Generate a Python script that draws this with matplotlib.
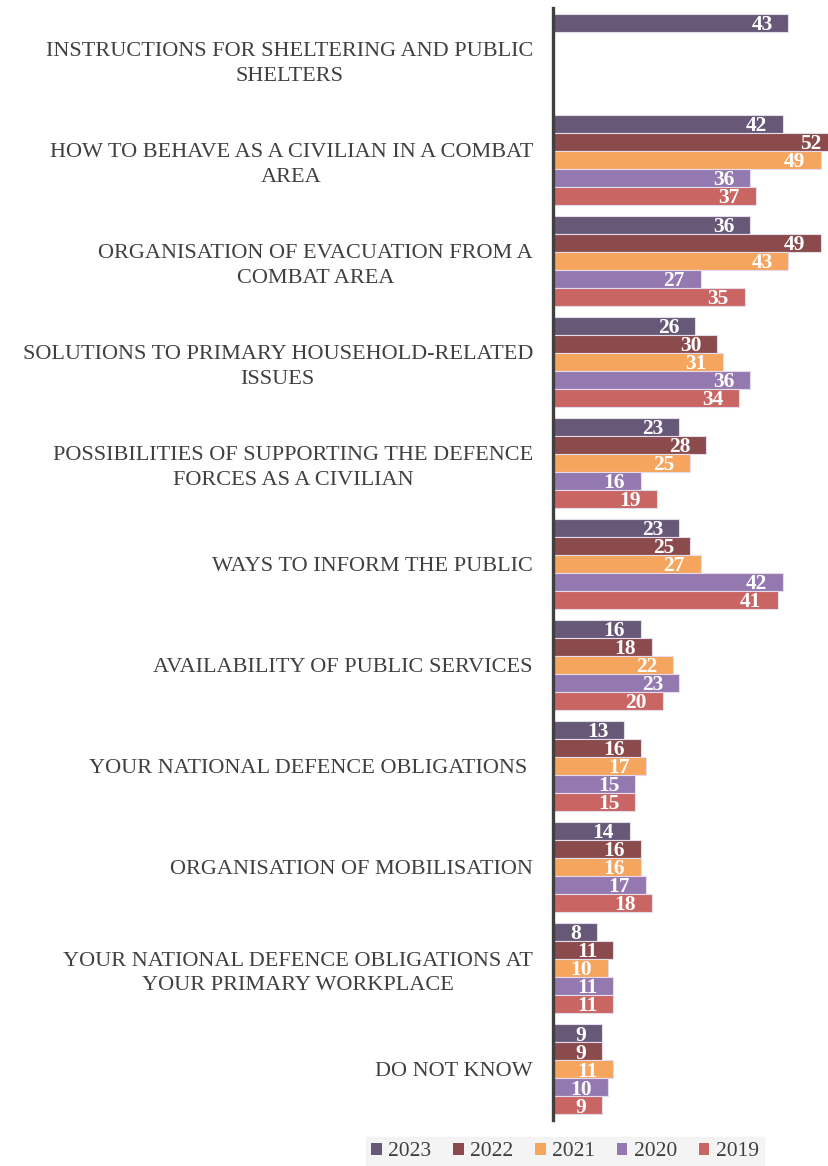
import numpy as np
import matplotlib
matplotlib.use("Agg")
import matplotlib.pyplot as plt
from matplotlib.patches import Patch

categories = [
    "INSTRUCTIONS FOR SHELTERING AND PUBLIC\nSHELTERS",
    "HOW TO BEHAVE AS A CIVILIAN IN A COMBAT\nAREA",
    "ORGANISATION OF EVACUATION FROM A\nCOMBAT AREA",
    "SOLUTIONS TO PRIMARY HOUSEHOLD-RELATED\nISSUES",
    "POSSIBILITIES OF SUPPORTING THE DEFENCE\nFORCES AS A CIVILIAN",
    "WAYS TO INFORM THE PUBLIC",
    "AVAILABILITY OF PUBLIC SERVICES",
    "YOUR NATIONAL DEFENCE OBLIGATIONS ",
    "ORGANISATION OF MOBILISATION",
    "YOUR NATIONAL DEFENCE OBLIGATIONS AT\nYOUR PRIMARY WORKPLACE",
    "DO NOT KNOW",
]
years = ["2023", "2022", "2021", "2020", "2019"]
v2023 = [43, 42, 36, 26, 23, 23, 16, 13, 14, 8, 9]
v2022 = [None, 52, 49, 30, 28, 25, 18, 16, 16, 11, 9]
v2021 = [None, 49, 43, 31, 25, 27, 22, 17, 16, 10, 11]
v2020 = [None, 36, 27, 36, 16, 42, 23, 15, 17, 11, 10]
v2019 = [None, 37, 35, 34, 19, 41, 20, 15, 18, 11, 9]
series = [v2023, v2022, v2021, v2020, v2019]
colors = ["#675878", "#8B4A4C", "#F6A55F", "#9479B0", "#C96664"]

serif = ["Liberation Serif", "DejaVu Serif"]

fig = plt.figure(figsize=(8.29, 11.66), dpi=100)
ax = fig.add_axes([553 / 829, 1 - 1120 / 1166, 1 - 553 / 829, (1120 - 8) / 1166])

bh = 0.178
y = np.arange(len(categories))
for j, (vals, c) in enumerate(zip(series, colors)):
    for i, v in enumerate(vals):
        if v is None:
            continue
        yy = i + (j - 2) * bh
        ax.barh(yy, v, height=bh, color=c, edgecolor="#e4dcea", linewidth=0.8)
        ax.annotate(str(v), xy=(v, yy), xytext=(-11.5, -1.5), textcoords="offset points",
                    ha="right", va="center", color="white", fontsize=15.5,
                    fontweight="bold", family=serif, annotation_clip=False)

ax.set_xlim(0, 50.4)
ax.set_ylim(len(categories) - 0.5, -0.5)
ax.set_yticks(y)
ax.set_yticklabels(categories, family=serif, fontsize=16, color="#404040",
                   linespacing=1.4, ha="right", multialignment="center")
ax.tick_params(axis="y", length=0, pad=14.4)
ax.set_xticks([])
for s in ["top", "right", "bottom"]:
    ax.spines[s].set_visible(False)
ax.spines["left"].set_color("#404040")
ax.spines["left"].set_linewidth(2.4)

handles = [Patch(facecolor=c, edgecolor="none") for c in colors]
leg = fig.legend(handles, years, loc="center", bbox_to_anchor=(565 / 829, 1 - 1152 / 1166),
                 ncol=5, frameon=True, prop={"family": serif, "size": 15.5},
                 handlelength=0.5, handleheight=0.5, handletextpad=0.3,
                 columnspacing=1.0, borderpad=0.25, fancybox=False)
leg.get_frame().set_facecolor("#f2f2f2")
leg.get_frame().set_edgecolor("#f2f2f2")
for t in leg.get_texts():
    t.set_color("#404040")

fig.savefig("out.png", dpi=100)
